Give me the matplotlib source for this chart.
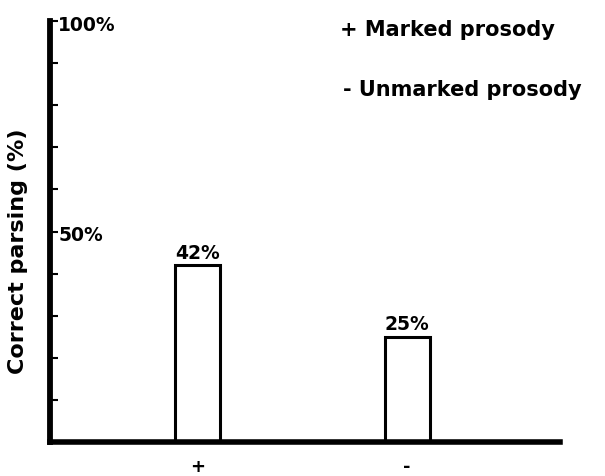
import matplotlib
matplotlib.use("Agg")
import matplotlib.pyplot as plt

categories = ["+", "-"]
values = [42, 25]
bar_labels = ["42%", "25%"]
legend_lines = ["+ Marked prosody", "- Unmarked prosody"]
ytick_vals = [0, 10, 20, 30, 40, 50, 60, 70, 80, 90, 100]
ytick_labeled = {100: "100%", 50: "50%"}

plt.rcParams['font.family'] = ['DejaVu Sans']
W, H = 605, 477
fig = plt.figure(figsize=(W / 100, H / 100), dpi=100)
ax = fig.add_axes([50 / W, 1 - 443 / H, (560 - 50) / W, (443 - 22) / H])

x = list(range(len(categories)))
ax.bar(x, values, width=0.215, color='white', edgecolor='black', linewidth=2.2, zorder=1)
ax.set_xlim(-0.704, 1.73)
ax.set_ylim(0, 100)

for s in ['top', 'right']:
    ax.spines[s].set_visible(False)
ax.spines['left'].set_linewidth(4.2)
ax.spines['bottom'].set_linewidth(4)
ax.spines['left'].set_zorder(3)
ax.spines['bottom'].set_zorder(3)

ax.set_yticks(ytick_vals)
ax.set_yticklabels([])
ax.tick_params(axis='y', direction='in', length=6, width=1.5)
ax.set_xticks(x)
ax.set_xticklabels(categories, fontsize=13, fontweight='bold')
ax.tick_params(axis='x', length=0, pad=11)

for v, lab in ytick_labeled.items():
    ax.text(0.016, v - 0.8, lab, transform=ax.get_yaxis_transform(), fontsize=13.5,
            fontweight='bold', va='center', ha='left')

for xi, v, lab in zip(x, values, bar_labels):
    ax.text(xi, v + 0.8, lab, ha='center', va='bottom', fontsize=13.5, fontweight='bold')

ax.set_ylabel("Correct parsing (%)", fontsize=16, fontweight='bold')
ax.yaxis.set_label_coords(-22 / 510, 0.455)

fig.text(340 / W, 1 - 30 / H, legend_lines[0], fontsize=15, fontweight='bold', va='center', ha='left')
fig.text(343 / W, 1 - 90 / H, legend_lines[1], fontsize=15, fontweight='bold', va='center', ha='left')

fig.savefig("out.png", dpi=100)
